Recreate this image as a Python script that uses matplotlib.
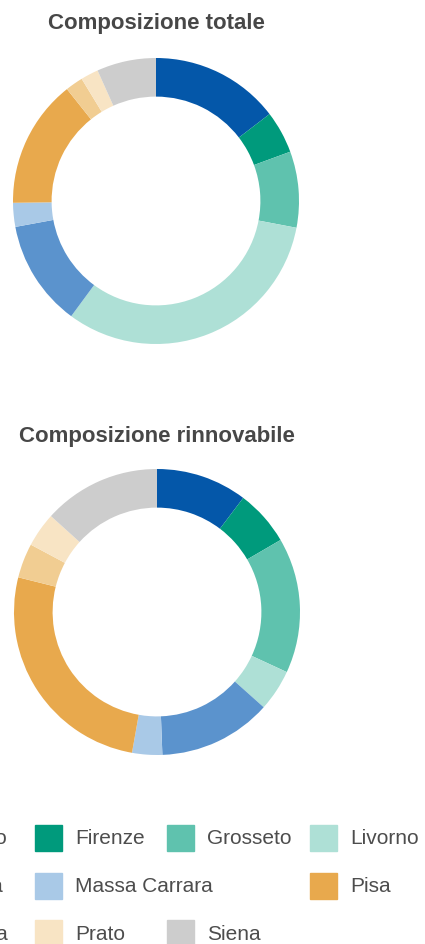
import matplotlib.pyplot as plt
from matplotlib.patches import Rectangle

province = ['Arezzo', 'Firenze', 'Grosseto', 'Livorno', 'Lucca',
            'Massa Carrara', 'Pisa', 'Pistoia', 'Prato', 'Siena']
colori = ['#0457a9', '#009a7c', '#5fc2ae', '#aee0d6', '#5b93cd',
          '#a9c9e7', '#e8a94d', '#f1cd92', '#f8e4c4', '#cdcdcd']

quota_totale = [14.6, 4.8, 8.6, 32.1, 12.0, 2.7, 14.5, 2.0, 2.0, 6.7]
quota_rinnovabile = [10.3, 6.3, 15.3, 4.7, 12.8, 3.4, 26.1, 3.9, 3.9, 13.3]

titoli = ['Composizione totale', 'Composizione rinnovabile']

W, H = 425, 944
fig = plt.figure(figsize=(W / 100, H / 100), dpi=100)


def px_axes(cx, cy, r):
    # axes quadrato centrato in (cx, cy) pixel, origine in alto
    return fig.add_axes([(cx - r) / W, 1 - (cy + r) / H, 2 * r / W, 2 * r / H])


centri = [(156, 201), (157, 612)]
titolo_y = [24, 437]
R = 143

for dati, titolo, (cx, cy), ty in zip([quota_totale, quota_rinnovabile],
                                      titoli, centri, titolo_y):
    ax = px_axes(cx, cy, R)
    ax.pie(dati, colors=colori, startangle=90, counterclock=False,
           radius=1, wedgeprops=dict(width=0.27, linewidth=0))
    ax.set_xlim(-1, 1)
    ax.set_ylim(-1, 1)
    ax.set_aspect('equal')
    ax.axis('off')
    fig.text(cx / W, 1 - ty / H, titolo, ha='center', va='center',
             fontsize=16, fontweight='bold', color='#474747',
             family='Liberation Sans')

# legenda (tagliata a sinistra come nell'originale)
lg = fig.add_axes([0, 0, 1, 1])
lg.set_xlim(0, W)
lg.set_ylim(H, 0)
lg.axis('off')
lg.patch.set_alpha(0)

righe = [[0, 1, 2, 3], [4, 5, 6], [7, 8, 9]]
colonne = [[-97, 35, 167, 310], [-97, 35, 310], [-97, 35, 167]]
fine_prima = [8, 3, 8]
righe_y = [838, 886, 933]
for idx_riga, xs, y, fine in zip(righe, colonne, righe_y, fine_prima):
    for i, x in zip(idx_riga, xs):
        lg.add_patch(Rectangle((x, y - 13), 27, 26, color=colori[i],
                               clip_on=False))
        if x < 0:
            # prima colonna: solo la fine del testo resta visibile
            lg.text(fine, y + 1, province[i], ha='right', va='center',
                    fontsize=15, color='#4d4d4d', family='Liberation Sans')
        else:
            lg.text(x + 40, y + 1, province[i], ha='left', va='center',
                    fontsize=15, color='#4d4d4d', family='Liberation Sans')

fig.savefig('out.png', dpi=100, facecolor='white')
